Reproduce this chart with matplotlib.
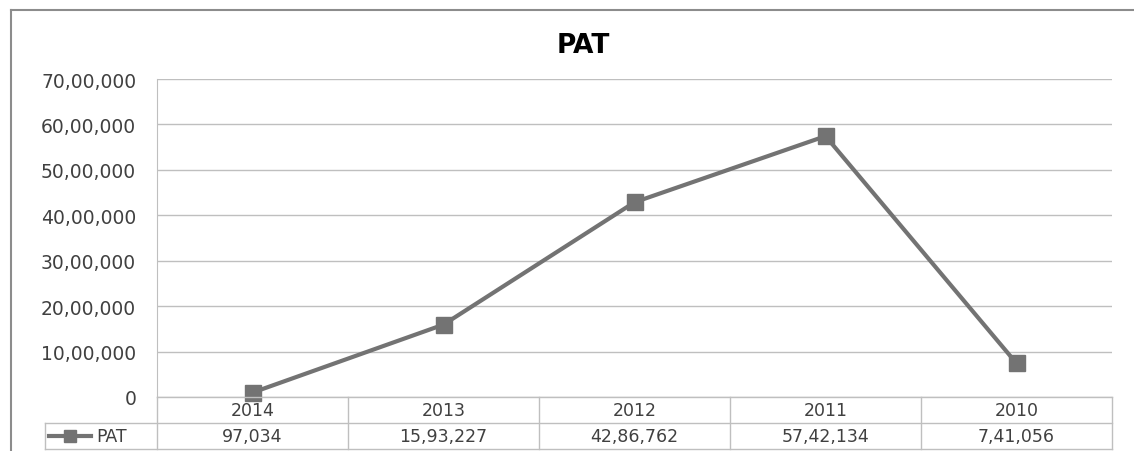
import matplotlib
matplotlib.use("Agg")
import matplotlib.pyplot as plt
from matplotlib.lines import Line2D

years = ["2014", "2013", "2012", "2011", "2010"]
pat = [97034, 1593227, 4286762, 5742134, 741056]
yticks = [0, 1000000, 2000000, 3000000, 4000000, 5000000, 6000000, 7000000]
title = "PAT"
series_name = "PAT"

def indian(n):
    s = str(int(n))
    if len(s) <= 3:
        return s
    last3 = s[-3:]
    rest = s[:-3]
    parts = []
    while len(rest) > 2:
        parts.insert(0, rest[-2:])
        rest = rest[:-2]
    if rest:
        parts.insert(0, rest)
    return ",".join(parts + [last3])

W, H = 1134, 452
fig = plt.figure(figsize=(W / 100, H / 100), dpi=100)
fig.patch.set_facecolor("white")

txt = "#404040"
grid_c = "#bfbfbf"
line_c = "#737373"

L, R, T, B = 157, 1112, 80, 398
ax = fig.add_axes([L / W, (H - B) / H, (R - L) / W, (B - T) / H])
x = list(range(len(years)))
ax.plot(x, pat, color=line_c, lw=3, marker="s", ms=12, mfc=line_c, mec=line_c, zorder=3, clip_on=False)
ax.set_xlim(-0.5, len(years) - 0.5)
ax.set_ylim(0, 7000000)
ax.set_yticks(yticks)
ax.set_yticklabels([indian(v) for v in yticks], fontsize=13.5, color=txt)
ax.set_xticks([])
ax.tick_params(axis="y", length=0, pad=15)
ax.grid(axis="y", color=grid_c, lw=1)
for s in ["top", "right", "bottom"]:
    ax.spines[s].set_visible(False)
ax.spines["left"].set_color(grid_c)
ax.set_axisbelow(True)

# title
fig.text(583 / W, 1 - 46 / H, title, ha="center", va="center", fontsize=19, fontweight="bold", color="#000000")

# table below the plot
row1_top, row_mid, row2_bot = 398, 424, 450
leg_left = 45
def fx(px):
    return px / W
def fy(py):
    return 1 - py / H

col_w = (R - L) / len(years)
lines = []
lines.append(((L, R), (row1_top, row1_top)))
lines.append(((leg_left, R), (row_mid, row_mid)))
lines.append(((leg_left, R), (row2_bot, row2_bot)))
lines.append(((L, L), (row1_top, row2_bot)))
lines.append(((leg_left, leg_left), (row_mid, row2_bot)))
for i in range(1, len(years) + 1):
    xx = L + i * col_w
    lines.append(((xx, xx), (row1_top, row2_bot)))
for (xs, ys) in lines:
    fig.add_artist(Line2D([fx(v) for v in xs], [fy(v) for v in ys], color=grid_c, lw=1))

for i, (yr, v) in enumerate(zip(years, pat)):
    cx = L + (i + 0.5) * col_w
    fig.text(fx(cx), fy((row1_top + row_mid) / 2), yr, ha="center", va="center", fontsize=12.5, color=txt)
    fig.text(fx(cx), fy((row_mid + row2_bot) / 2), indian(v), ha="center", va="center", fontsize=12.5, color=txt)

# legend key
ly = fy((row_mid + row2_bot) / 2)
fig.add_artist(Line2D([fx(49), fx(91)], [ly, ly], color=line_c, lw=3))
fig.add_artist(Line2D([fx(70)], [ly], color=line_c, marker="s", ms=9, mec=line_c, mfc=line_c))
fig.text(fx(96), ly, series_name, ha="left", va="center", fontsize=12.5, color=txt)

# outer frame (left and top)
fig.add_artist(Line2D([fx(11), fx(11)], [fy(11), 0], color="#8c8c8c", lw=1.5))
fig.add_artist(Line2D([fx(11), 1], [fy(11), fy(11)], color="#8c8c8c", lw=1.5))

fig.savefig("out.png", dpi=100, facecolor="white")
